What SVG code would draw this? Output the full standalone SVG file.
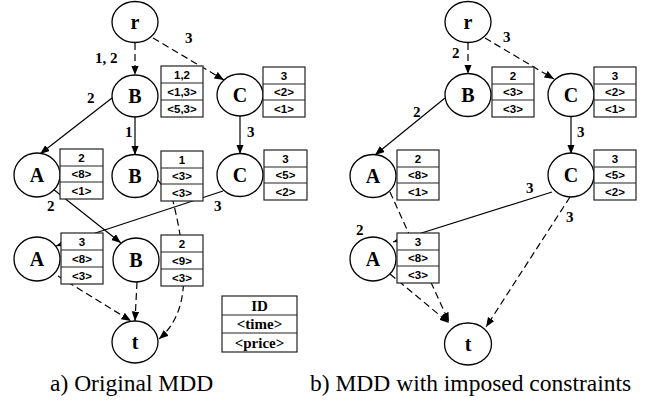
<svg xmlns="http://www.w3.org/2000/svg" width="650" height="413" viewBox="0 0 650 413">
<defs>
<marker id="ah" markerUnits="userSpaceOnUse" markerWidth="11" markerHeight="8" refX="9.5" refY="3.75" orient="auto">
<path d="M0,0 L9.5,3.75 L0,7.5 z" fill="#000"/>
</marker>
<style>
.n ellipse{fill:#fff;stroke:#000;stroke-width:1.3}
.n text{font-family:'Liberation Serif',Tinos,'Times New Roman',Times,'DejaVu Serif',serif;font-weight:bold;font-size:20px;text-anchor:middle}
.bx rect{fill:#fff;stroke:#222;stroke-width:1.2}
.bx line{stroke:#222;stroke-width:1.2}
.bx text{font-family:'Liberation Sans',Arimo,Arial,sans-serif;font-weight:bold;font-size:11.5px;text-anchor:middle}
.e{fill:none;stroke:#000;stroke-width:1.2;marker-end:url(#ah)}
.d{stroke-dasharray:7,4}
.lb{font-family:'Liberation Serif',Tinos,'Times New Roman',Times,'DejaVu Serif',serif;font-weight:bold;font-size:15px}
.lg text{font-family:'Liberation Serif',Tinos,'Times New Roman',Times,'DejaVu Serif',serif;font-weight:bold;font-size:15px;text-anchor:middle}
.cap{font-family:'Liberation Serif',Tinos,'Times New Roman',Times,'DejaVu Serif',serif;font-size:23.5px}
</style>
</defs>
<rect width="650" height="413" fill="#fff"/>

<g id="connectors">
<path class="e d" d="M135,43 L135,75"/>
<path class="e d" d="M153,38 L224,80"/>
<path class="e" d="M112,98 L40,154"/>
<path class="e" d="M135,117 L135,155"/>
<path class="e" d="M240,116 L240,154"/>
<path class="e" d="M53,189 L121,243"/>
<path class="e" d="M223,191 L56,246"/>
<path class="e d" d="M158,180 L173,201 C180,230 186,262 183,290 C181,310 173,327 159,339"/>
<path class="e d" d="M58,276 L131,321"/>
<path class="e d" d="M137,282 L135,321"/>
<path class="e d" d="M468,43 L468,74"/>
<path class="e d" d="M485,38 L554,79"/>
<path class="e" d="M445,98 L375,155"/>
<path class="e" d="M571,117 L571,154"/>
<path class="e" d="M552,192 L393,242"/>
<path class="e d" d="M390,192 L449,322"/>
<path class="e d" d="M390,274 L449,323"/>
<path class="e d" d="M570,197 L486,327"/>
</g>

<g id="edge-labels" class="lb">
<text x="95" y="63">1, 2</text>
<text x="185" y="43">3</text>
<text x="87" y="103">2</text>
<text x="125" y="137">1</text>
<text x="247" y="137">3</text>
<text x="47" y="211">2</text>
<text x="214" y="211">3</text>
<text x="452" y="58">2</text>
<text x="503" y="42">3</text>
<text x="413" y="117">2</text>
<text x="577" y="137">3</text>
<text x="526" y="193">3</text>
<text x="356" y="235">2</text>
<text x="566" y="222">3</text>
</g>

<g id="L-r" class="n"><ellipse cx="135" cy="22" rx="23" ry="20.5"/><text x="135" y="29">r</text></g>
<g id="L-B1" class="n"><ellipse cx="135" cy="96" rx="23" ry="21"/><text x="135" y="103">B</text></g>
<g id="L-C1" class="n"><ellipse cx="240" cy="95" rx="23" ry="21"/><text x="240" y="102">C</text></g>
<g id="L-A2" class="n"><ellipse cx="37" cy="175" rx="23" ry="22"/><text x="37" y="182">A</text></g>
<g id="L-B2" class="n"><ellipse cx="135" cy="176" rx="23" ry="21.5"/><text x="135" y="183">B</text></g>
<g id="L-C2" class="n"><ellipse cx="240" cy="175" rx="23" ry="21.5"/><text x="240" y="182">C</text></g>
<g id="L-A3" class="n"><ellipse cx="37" cy="259" rx="23" ry="22"/><text x="37" y="266">A</text></g>
<g id="L-B3" class="n"><ellipse cx="136" cy="260" rx="23" ry="22"/><text x="136" y="267">B</text></g>
<g id="L-t" class="n"><ellipse cx="135" cy="342" rx="23" ry="21"/><text x="135" y="349">t</text></g>

<g id="L-B1-box" class="bx"><rect x="161" y="66" width="42" height="51"/><line x1="161" y1="83" x2="203" y2="83"/><line x1="161" y1="100" x2="203" y2="100"/><text x="182" y="78.8">1,2</text><text x="182" y="95.8">&lt;1,3&gt;</text><text x="182" y="112.8">&lt;5,3&gt;</text></g>
<g id="L-C1-box" class="bx"><rect x="263" y="67" width="42" height="50"/><line x1="263" y1="84" x2="305" y2="84"/><line x1="263" y1="100" x2="305" y2="100"/><text x="284" y="79.8">3</text><text x="284" y="96.3">&lt;2&gt;</text><text x="284" y="112.8">&lt;1&gt;</text></g>
<g id="L-A2-box" class="bx"><rect x="60" y="149" width="43" height="50"/><line x1="60" y1="166" x2="103" y2="166"/><line x1="60" y1="182" x2="103" y2="182"/><text x="81.5" y="161.8">2</text><text x="81.5" y="178.3">&lt;8&gt;</text><text x="81.5" y="194.8">&lt;1&gt;</text></g>
<g id="L-B2-box" class="bx"><rect x="161" y="151" width="42" height="50"/><line x1="161" y1="168" x2="203" y2="168"/><line x1="161" y1="184" x2="203" y2="184"/><text x="182" y="163.8">1</text><text x="182" y="180.3">&lt;3&gt;</text><text x="182" y="196.8">&lt;3&gt;</text></g>
<g id="L-C2-box" class="bx"><rect x="264" y="150" width="43" height="50"/><line x1="264" y1="167" x2="307" y2="167"/><line x1="264" y1="183" x2="307" y2="183"/><text x="285.5" y="162.8">3</text><text x="285.5" y="179.3">&lt;5&gt;</text><text x="285.5" y="195.8">&lt;2&gt;</text></g>
<g id="L-A3-box" class="bx"><rect x="61" y="233" width="42" height="51"/><line x1="61" y1="250" x2="103" y2="250"/><line x1="61" y1="267" x2="103" y2="267"/><text x="82" y="245.8">3</text><text x="82" y="262.8">&lt;8&gt;</text><text x="82" y="279.8">&lt;3&gt;</text></g>
<g id="L-B3-box" class="bx"><rect x="161" y="235" width="42" height="51"/><line x1="161" y1="252" x2="203" y2="252"/><line x1="161" y1="269" x2="203" y2="269"/><text x="182" y="247.8">2</text><text x="182" y="264.8">&lt;9&gt;</text><text x="182" y="281.8">&lt;3&gt;</text></g>

<g id="legend" class="lg">
<rect x="222" y="296" width="75" height="56" fill="#fff" stroke="#222" stroke-width="1.2"/>
<line x1="222" y1="315" x2="297" y2="315" stroke="#222" stroke-width="1.2"/>
<line x1="222" y1="333" x2="297" y2="333" stroke="#222" stroke-width="1.2"/>
<text x="259.5" y="310.5">ID</text>
<text x="259.5" y="329">&lt;time&gt;</text>
<text x="259.5" y="347.5">&lt;price&gt;</text>
</g>

<g id="R-r" class="n"><ellipse cx="468" cy="22" rx="23" ry="20.5"/><text x="468" y="29">r</text></g>
<g id="R-B1" class="n"><ellipse cx="468" cy="95" rx="23" ry="21.5"/><text x="468" y="102">B</text></g>
<g id="R-C1" class="n"><ellipse cx="571" cy="95" rx="23" ry="21.5"/><text x="571" y="102">C</text></g>
<g id="R-A2" class="n"><ellipse cx="373" cy="176" rx="23" ry="21.5"/><text x="373" y="183">A</text></g>
<g id="R-C2" class="n"><ellipse cx="571" cy="175" rx="23" ry="22"/><text x="571" y="182">C</text></g>
<g id="R-A3" class="n"><ellipse cx="373" cy="259" rx="23" ry="22"/><text x="373" y="266">A</text></g>
<g id="R-t" class="n"><ellipse cx="468" cy="344" rx="23.5" ry="21"/><text x="468" y="351">t</text></g>

<g id="R-B1-box" class="bx"><rect x="492" y="67" width="42" height="50"/><line x1="492" y1="84" x2="534" y2="84"/><line x1="492" y1="100" x2="534" y2="100"/><text x="513" y="79.8">2</text><text x="513" y="96.3">&lt;3&gt;</text><text x="513" y="112.8">&lt;3&gt;</text></g>
<g id="R-C1-box" class="bx"><rect x="594" y="67" width="42" height="50"/><line x1="594" y1="84" x2="636" y2="84"/><line x1="594" y1="100" x2="636" y2="100"/><text x="615" y="79.8">3</text><text x="615" y="96.3">&lt;2&gt;</text><text x="615" y="112.8">&lt;1&gt;</text></g>
<g id="R-A2-box" class="bx"><rect x="397" y="150" width="42" height="50"/><line x1="397" y1="167" x2="439" y2="167"/><line x1="397" y1="183" x2="439" y2="183"/><text x="418" y="162.8">2</text><text x="418" y="179.3">&lt;8&gt;</text><text x="418" y="195.8">&lt;1&gt;</text></g>
<g id="R-C2-box" class="bx"><rect x="594" y="150" width="42" height="50"/><line x1="594" y1="167" x2="636" y2="167"/><line x1="594" y1="183" x2="636" y2="183"/><text x="615" y="162.8">3</text><text x="615" y="179.3">&lt;5&gt;</text><text x="615" y="195.8">&lt;2&gt;</text></g>
<g id="R-A3-box" class="bx"><rect x="397" y="233" width="42" height="50"/><line x1="397" y1="250" x2="439" y2="250"/><line x1="397" y1="266" x2="439" y2="266"/><text x="418" y="245.8">3</text><text x="418" y="262.3">&lt;8&gt;</text><text x="418" y="278.8">&lt;3&gt;</text></g>

<g id="captions">
<text class="cap" x="50" y="391">a) Original MDD</text>
<text class="cap" x="310" y="391">b) MDD with imposed constraints</text>
</g>
</svg>
